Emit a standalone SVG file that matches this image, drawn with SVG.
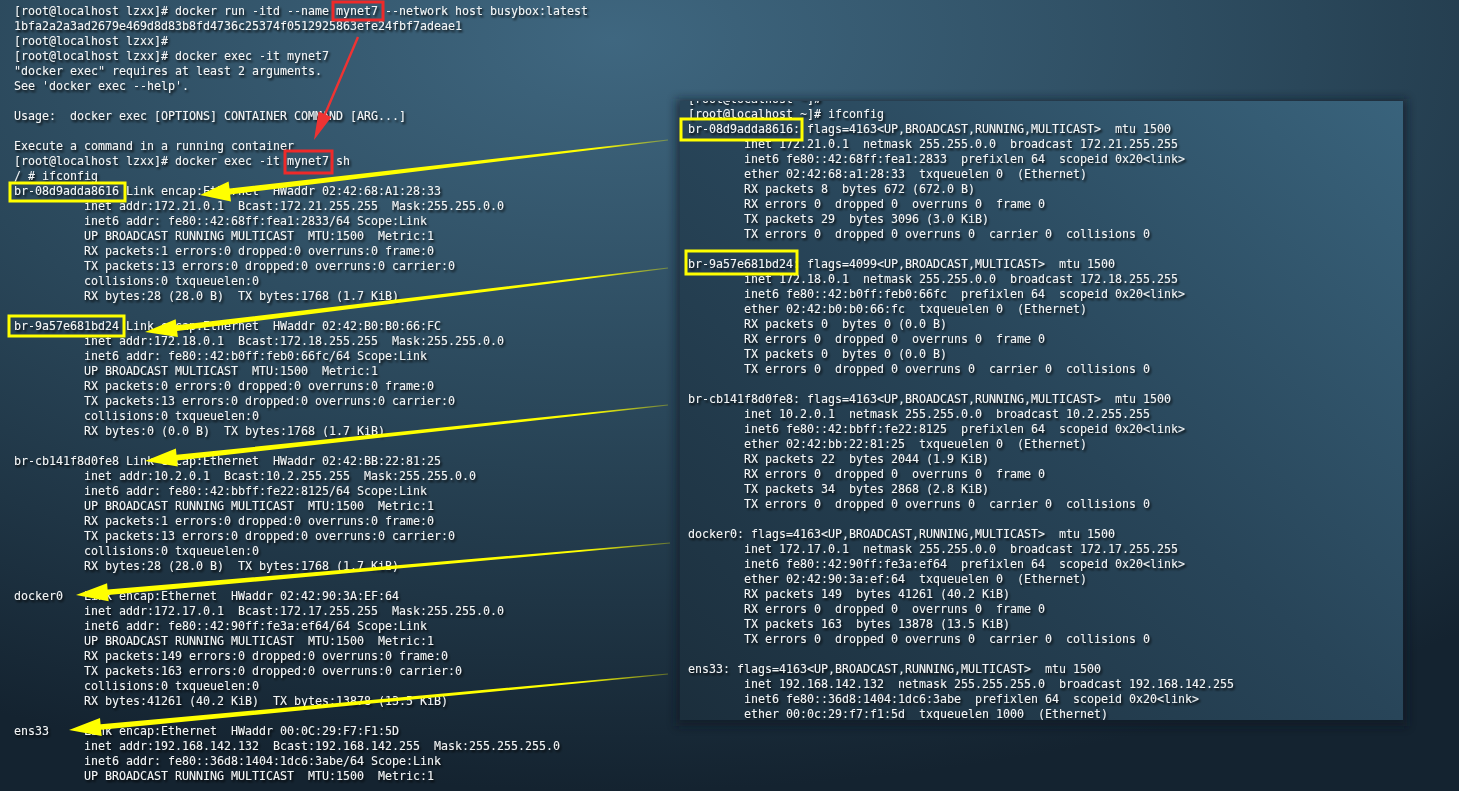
<svg xmlns="http://www.w3.org/2000/svg" width="1459" height="791" viewBox="0 0 1459 791">
<defs>
<style>
.t{font-family:"DejaVu Sans Mono","Liberation Mono",monospace;font-size:11.63px;fill:#f3f5f6}
.yb{fill:none;stroke:#ffff00;stroke-width:3}
.rb{fill:none;stroke:#ee2a2a;stroke-width:3}
.ya{fill:url(#yfade)}
.ra{fill:#ee3333}
</style>
<radialGradient id="bg" cx="0.42" cy="0.05" r="0.95">
<stop offset="0" stop-color="#3f6780"/>
<stop offset="0.5" stop-color="#2a475a"/>
<stop offset="1" stop-color="#142330"/>
</radialGradient>
<linearGradient id="panelg" x1="1" y1="0" x2="0" y2="1">
<stop offset="0" stop-color="#39637c"/>
<stop offset="0.5" stop-color="#284559"/>
<stop offset="1" stop-color="#1b2e3c"/>
</linearGradient>
<linearGradient id="yfade" x1="0" y1="0" x2="1" y2="0">
<stop offset="0" stop-color="#ffff00"/>
<stop offset="0.85" stop-color="#ffff00"/>
<stop offset="1" stop-color="#ffff00" stop-opacity="0.3"/>
</linearGradient>
<filter id="sh" x="-5%" y="-5%" width="110%" height="110%">
<feDropShadow dx="1.5" dy="2" stdDeviation="1.2" flood-color="#000" flood-opacity="0.95"/>
</filter>
<filter id="blur" x="-10%" y="-10%" width="120%" height="120%">
<feGaussianBlur stdDeviation="5"/>
</filter>
<clipPath id="pclip"><rect x="680" y="101" width="723" height="619"/></clipPath>
</defs>

<g id="background">
<rect x="0" y="0" width="1459" height="791" fill="url(#bg)"/>
</g>

<g id="left-terminal" class="t" filter="url(#sh)">
<text x="14" y="15">[root@localhost lzxx]# docker run -itd --name mynet7 --network host busybox:latest</text>
<text x="14" y="30">1bfa2a2a3ad2679e469d8d83b8fd4736c25374f0512925863efe24fbf7adeae1</text>
<text x="14" y="45">[root@localhost lzxx]#</text>
<text x="14" y="60">[root@localhost lzxx]# docker exec -it mynet7</text>
<text x="14" y="75">"docker exec" requires at least 2 arguments.</text>
<text x="14" y="90">See 'docker exec --help'.</text>
<text x="14" y="120">Usage:&#160;&#160;docker exec [OPTIONS] CONTAINER COMMAND [ARG...]</text>
<text x="14" y="150">Execute a command in a running container</text>
<text x="14" y="165">[root@localhost lzxx]# docker exec -it mynet7 sh</text>
<text x="14" y="180">/ # ifconfig</text>
<text x="14" y="195">br-08d9adda8616 Link encap:Ethernet&#160;&#160;HWaddr 02:42:68:A1:28:33</text>
<text x="84" y="210">inet addr:172.21.0.1&#160;&#160;Bcast:172.21.255.255&#160;&#160;Mask:255.255.0.0</text>
<text x="84" y="225">inet6 addr: fe80::42:68ff:fea1:2833/64 Scope:Link</text>
<text x="84" y="240">UP BROADCAST RUNNING MULTICAST&#160;&#160;MTU:1500&#160;&#160;Metric:1</text>
<text x="84" y="255">RX packets:1 errors:0 dropped:0 overruns:0 frame:0</text>
<text x="84" y="270">TX packets:13 errors:0 dropped:0 overruns:0 carrier:0</text>
<text x="84" y="285">collisions:0 txqueuelen:0</text>
<text x="84" y="300">RX bytes:28 (28.0 B)&#160;&#160;TX bytes:1768 (1.7 KiB)</text>
<text x="14" y="330">br-9a57e681bd24 Link encap:Ethernet&#160;&#160;HWaddr 02:42:B0:B0:66:FC</text>
<text x="84" y="345">inet addr:172.18.0.1&#160;&#160;Bcast:172.18.255.255&#160;&#160;Mask:255.255.0.0</text>
<text x="84" y="360">inet6 addr: fe80::42:b0ff:feb0:66fc/64 Scope:Link</text>
<text x="84" y="375">UP BROADCAST MULTICAST&#160;&#160;MTU:1500&#160;&#160;Metric:1</text>
<text x="84" y="390">RX packets:0 errors:0 dropped:0 overruns:0 frame:0</text>
<text x="84" y="405">TX packets:13 errors:0 dropped:0 overruns:0 carrier:0</text>
<text x="84" y="420">collisions:0 txqueuelen:0</text>
<text x="84" y="435">RX bytes:0 (0.0 B)&#160;&#160;TX bytes:1768 (1.7 KiB)</text>
<text x="14" y="465">br-cb141f8d0fe8 Link encap:Ethernet&#160;&#160;HWaddr 02:42:BB:22:81:25</text>
<text x="84" y="480">inet addr:10.2.0.1&#160;&#160;Bcast:10.2.255.255&#160;&#160;Mask:255.255.0.0</text>
<text x="84" y="495">inet6 addr: fe80::42:bbff:fe22:8125/64 Scope:Link</text>
<text x="84" y="510">UP BROADCAST RUNNING MULTICAST&#160;&#160;MTU:1500&#160;&#160;Metric:1</text>
<text x="84" y="525">RX packets:1 errors:0 dropped:0 overruns:0 frame:0</text>
<text x="84" y="540">TX packets:13 errors:0 dropped:0 overruns:0 carrier:0</text>
<text x="84" y="555">collisions:0 txqueuelen:0</text>
<text x="84" y="570">RX bytes:28 (28.0 B)&#160;&#160;TX bytes:1768 (1.7 KiB)</text>
<text x="14" y="600">docker0<tspan x="84">Link encap:Ethernet&#160;&#160;HWaddr 02:42:90:3A:EF:64</tspan></text>
<text x="84" y="615">inet addr:172.17.0.1&#160;&#160;Bcast:172.17.255.255&#160;&#160;Mask:255.255.0.0</text>
<text x="84" y="630">inet6 addr: fe80::42:90ff:fe3a:ef64/64 Scope:Link</text>
<text x="84" y="645">UP BROADCAST RUNNING MULTICAST&#160;&#160;MTU:1500&#160;&#160;Metric:1</text>
<text x="84" y="660">RX packets:149 errors:0 dropped:0 overruns:0 frame:0</text>
<text x="84" y="675">TX packets:163 errors:0 dropped:0 overruns:0 carrier:0</text>
<text x="84" y="690">collisions:0 txqueuelen:0</text>
<text x="84" y="705">RX bytes:41261 (40.2 KiB)&#160;&#160;TX bytes:13878 (13.5 KiB)</text>
<text x="14" y="735">ens33<tspan x="84">Link encap:Ethernet&#160;&#160;HWaddr 00:0C:29:F7:F1:5D</tspan></text>
<text x="84" y="750">inet addr:192.168.142.132&#160;&#160;Bcast:192.168.142.255&#160;&#160;Mask:255.255.255.0</text>
<text x="84" y="765">inet6 addr: fe80::36d8:1404:1dc6:3abe/64 Scope:Link</text>
<text x="84" y="780">UP BROADCAST RUNNING MULTICAST&#160;&#160;MTU:1500&#160;&#160;Metric:1</text>
</g>

<g id="right-panel">
<rect x="676" y="99" width="731" height="627" fill="#0c1820" opacity="0.6" filter="url(#blur)"/>
<rect x="680" y="101" width="723" height="619" fill="url(#panelg)"/>
<g class="t" filter="url(#sh)" clip-path="url(#pclip)">
<text x="688" y="102.5">[root@localhost ~]#</text>
<text x="688" y="117.5">[root@localhost ~]# ifconfig</text>
<text x="688" y="132.5">br-08d9adda8616: flags=4163&lt;UP,BROADCAST,RUNNING,MULTICAST&gt;&#160;&#160;mtu 1500</text>
<text x="744" y="147.5">inet 172.21.0.1&#160;&#160;netmask 255.255.0.0&#160;&#160;broadcast 172.21.255.255</text>
<text x="744" y="162.5">inet6 fe80::42:68ff:fea1:2833&#160;&#160;prefixlen 64&#160;&#160;scopeid 0x20&lt;link&gt;</text>
<text x="744" y="177.5">ether 02:42:68:a1:28:33&#160;&#160;txqueuelen 0&#160;&#160;(Ethernet)</text>
<text x="744" y="192.5">RX packets 8&#160;&#160;bytes 672 (672.0 B)</text>
<text x="744" y="207.5">RX errors 0&#160;&#160;dropped 0&#160;&#160;overruns 0&#160;&#160;frame 0</text>
<text x="744" y="222.5">TX packets 29&#160;&#160;bytes 3096 (3.0 KiB)</text>
<text x="744" y="237.5">TX errors 0&#160;&#160;dropped 0 overruns 0&#160;&#160;carrier 0&#160;&#160;collisions 0</text>
<text x="688" y="267.5">br-9a57e681bd24: flags=4099&lt;UP,BROADCAST,MULTICAST&gt;&#160;&#160;mtu 1500</text>
<text x="744" y="282.5">inet 172.18.0.1&#160;&#160;netmask 255.255.0.0&#160;&#160;broadcast 172.18.255.255</text>
<text x="744" y="297.5">inet6 fe80::42:b0ff:feb0:66fc&#160;&#160;prefixlen 64&#160;&#160;scopeid 0x20&lt;link&gt;</text>
<text x="744" y="312.5">ether 02:42:b0:b0:66:fc&#160;&#160;txqueuelen 0&#160;&#160;(Ethernet)</text>
<text x="744" y="327.5">RX packets 0&#160;&#160;bytes 0 (0.0 B)</text>
<text x="744" y="342.5">RX errors 0&#160;&#160;dropped 0&#160;&#160;overruns 0&#160;&#160;frame 0</text>
<text x="744" y="357.5">TX packets 0&#160;&#160;bytes 0 (0.0 B)</text>
<text x="744" y="372.5">TX errors 0&#160;&#160;dropped 0 overruns 0&#160;&#160;carrier 0&#160;&#160;collisions 0</text>
<text x="688" y="402.5">br-cb141f8d0fe8: flags=4163&lt;UP,BROADCAST,RUNNING,MULTICAST&gt;&#160;&#160;mtu 1500</text>
<text x="744" y="417.5">inet 10.2.0.1&#160;&#160;netmask 255.255.0.0&#160;&#160;broadcast 10.2.255.255</text>
<text x="744" y="432.5">inet6 fe80::42:bbff:fe22:8125&#160;&#160;prefixlen 64&#160;&#160;scopeid 0x20&lt;link&gt;</text>
<text x="744" y="447.5">ether 02:42:bb:22:81:25&#160;&#160;txqueuelen 0&#160;&#160;(Ethernet)</text>
<text x="744" y="462.5">RX packets 22&#160;&#160;bytes 2044 (1.9 KiB)</text>
<text x="744" y="477.5">RX errors 0&#160;&#160;dropped 0&#160;&#160;overruns 0&#160;&#160;frame 0</text>
<text x="744" y="492.5">TX packets 34&#160;&#160;bytes 2868 (2.8 KiB)</text>
<text x="744" y="507.5">TX errors 0&#160;&#160;dropped 0 overruns 0&#160;&#160;carrier 0&#160;&#160;collisions 0</text>
<text x="688" y="537.5">docker0: flags=4163&lt;UP,BROADCAST,RUNNING,MULTICAST&gt;&#160;&#160;mtu 1500</text>
<text x="744" y="552.5">inet 172.17.0.1&#160;&#160;netmask 255.255.0.0&#160;&#160;broadcast 172.17.255.255</text>
<text x="744" y="567.5">inet6 fe80::42:90ff:fe3a:ef64&#160;&#160;prefixlen 64&#160;&#160;scopeid 0x20&lt;link&gt;</text>
<text x="744" y="582.5">ether 02:42:90:3a:ef:64&#160;&#160;txqueuelen 0&#160;&#160;(Ethernet)</text>
<text x="744" y="597.5">RX packets 149&#160;&#160;bytes 41261 (40.2 KiB)</text>
<text x="744" y="612.5">RX errors 0&#160;&#160;dropped 0&#160;&#160;overruns 0&#160;&#160;frame 0</text>
<text x="744" y="627.5">TX packets 163&#160;&#160;bytes 13878 (13.5 KiB)</text>
<text x="744" y="642.5">TX errors 0&#160;&#160;dropped 0 overruns 0&#160;&#160;carrier 0&#160;&#160;collisions 0</text>
<text x="688" y="672.5">ens33: flags=4163&lt;UP,BROADCAST,RUNNING,MULTICAST&gt;&#160;&#160;mtu 1500</text>
<text x="744" y="687.5">inet 192.168.142.132&#160;&#160;netmask 255.255.255.0&#160;&#160;broadcast 192.168.142.255</text>
<text x="744" y="702.5">inet6 fe80::36d8:1404:1dc6:3abe&#160;&#160;prefixlen 64&#160;&#160;scopeid 0x20&lt;link&gt;</text>
<text x="744" y="717.5">ether 00:0c:29:f7:f1:5d&#160;&#160;txqueuelen 1000&#160;&#160;(Ethernet)</text>
</g>
</g>

<g id="highlights">
<rect id="red-box-name" class="rb" x="333" y="2" width="50" height="18"/>
<rect id="red-box-exec" class="rb" x="285" y="151" width="47" height="22"/>
<rect id="left-br-08d9" class="yb" x="10" y="183" width="115" height="18"/>
<rect id="left-br-9a57" class="yb" x="9" y="316" width="115" height="20"/>
<rect id="right-br-08d9" class="yb" x="681" y="119" width="121" height="21"/>
<rect id="right-br-9a57" class="yb" x="686" y="251" width="111" height="23"/>
</g>

<g id="connectors">
<polygon class="ra" points="356.9,36.5 323.9,113.8 318.6,111.5 314,140 331.4,117 326.1,114.7 359.1,37.5"/>
<polygon class="ya" points="667.9,139.4 229.5,188.5 228.6,181.6 200,195 231,201.4 230.2,194.5 668.1,140.6"/>
<polygon class="ya" points="667.9,267.4 176.4,325.3 175.7,319.2 145,332 177.9,337 177.1,330.9 668.1,268.6"/>
<polygon class="ya" points="667.9,404.4 176.5,454.8 175.9,448.6 145,461 177.8,466.5 177.1,460.4 668.1,405.6"/>
<polygon class="ya" points="669.9,542.4 107.6,589.4 107.1,583.2 76,595 108.7,601.2 108.1,595 670.1,543.6"/>
<polygon class="ya" points="667.9,673.4 100.6,724.2 100,718.1 69,730 101.7,736 101.1,729.8 668.1,674.6"/>
</g>
</svg>
